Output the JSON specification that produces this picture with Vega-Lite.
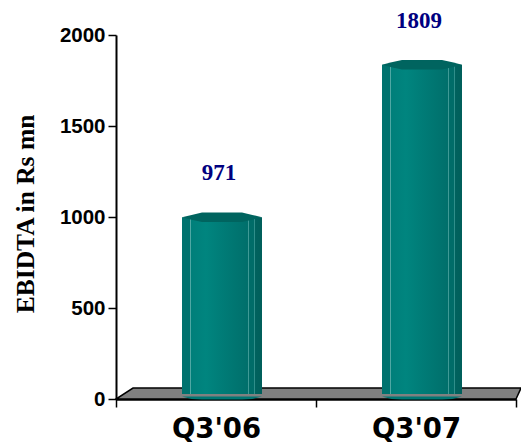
{"$schema":"https://vega.github.io/schema/vega-lite/v6.json","width":400,"height":364,"autosize":"none","padding":{"left":116,"top":35,"right":5,"bottom":45},"background":"white","datasets":{"bars":[{"quarter":"Q3'06","ebidta":971},{"quarter":"Q3'07","ebidta":1809}],"floor":[{"fx":0,"fy":0,"fy2":0},{"fx":0.085,"fy":0,"fy2":60},{"fx":2,"fy":0,"fy2":60},{"fx":2.025,"fy":60,"fy2":60}]},"config":{"view":{"stroke":null}},"resolve":{"scale":{"x":"independent"}},"layer":[{"data":{"name":"floor"},"mark":{"type":"area","fill":"#808080","stroke":"#000000","strokeWidth":1.5,"interpolate":"linear","clip":false},"encoding":{"x":{"field":"fx","type":"quantitative","scale":{"domain":[0,2],"nice":false,"zero":false},"axis":null},"y":{"field":"fy","type":"quantitative","scale":{"domain":[0,2000],"nice":false}},"y2":{"field":"fy2"}}},{"data":{"name":"bars"},"encoding":{"x":{"field":"quarter","type":"nominal","sort":null,"scale":{"paddingInner":0,"paddingOuter":0},"axis":{"title":null,"labelAngle":0,"labelFont":"DejaVu Sans","labelFontWeight":"bold","labelFontSize":27.5,"labelColor":"#000000","labelPadding":8,"tickBand":"extent","tickSize":8,"tickWidth":1.5,"tickColor":"#000000","domainColor":"#000000","domainWidth":2.5,"grid":false}},"y":{"field":"ebidta","type":"quantitative","scale":{"domain":[0,2000],"nice":false},"axis":{"title":"EBIDTA in Rs mn","titleFont":"Liberation Serif","titleFontWeight":"bold","titleFontSize":25.5,"titleColor":"#000000","titlePadding":21,"titleY":178.5,"labelFont":"Liberation Sans","labelFontWeight":"bold","labelFontSize":20.5,"labelColor":"#000000","labelPadding":3,"format":"d","values":[0,500,1000,1500,2000],"tickSize":8,"tickWidth":1.5,"tickColor":"#000000","domainColor":"#000000","domainWidth":2,"grid":false}}},"layer":[{"mark":{"type":"bar","size":80,"xOffset":6,"yOffset":-5,"y2Offset":-2,"fill":{"x1":0,"y1":0,"x2":1,"y2":0,"gradient":"linear","stops":[{"offset":0,"color":"#00726e"},{"offset":0.1,"color":"#00726e"},{"offset":0.1,"color":"#4fa8a4"},{"offset":0.115,"color":"#4fa8a4"},{"offset":0.115,"color":"#007f7a"},{"offset":0.3,"color":"#00857f"},{"offset":0.5,"color":"#007c77"},{"offset":0.82,"color":"#006f6b"},{"offset":0.82,"color":"#3f9a96"},{"offset":0.835,"color":"#3f9a96"},{"offset":0.835,"color":"#006c68"},{"offset":0.9,"color":"#006c68"},{"offset":0.9,"color":"#2f8e8a"},{"offset":0.912,"color":"#2f8e8a"},{"offset":0.912,"color":"#00625e"},{"offset":1,"color":"#005f5b"}]}}},{"mark":{"type":"point","filled":true,"opacity":1,"size":25600,"xOffset":6,"yOffset":0,"strokeWidth":0,"shape":"M-.5,-.03 L.5,-.03 L.38,0 L.25,.005 L-.25,.005 L-.38,0 Z","fill":"#007773"},"encoding":{"y":{"datum":0,"type":"quantitative"}}},{"mark":{"type":"point","filled":true,"opacity":1,"size":25600,"xOffset":6,"yOffset":-5,"strokeWidth":0,"shape":"M-.5,0 L-.38,-.03 L-.25,-.06 L.25,-.06 L.38,-.03 L.5,0 L.38,.03 L.25,.06 L-.25,.06 L-.38,.03 Z","fill":"#00645f"}},{"mark":{"type":"text","font":"Liberation Serif","fontWeight":"bold","fontSize":23,"color":"#000080","dy":-49,"xOffset":3,"baseline":"middle"},"encoding":{"text":{"field":"ebidta","type":"quantitative"}}}]}]}
